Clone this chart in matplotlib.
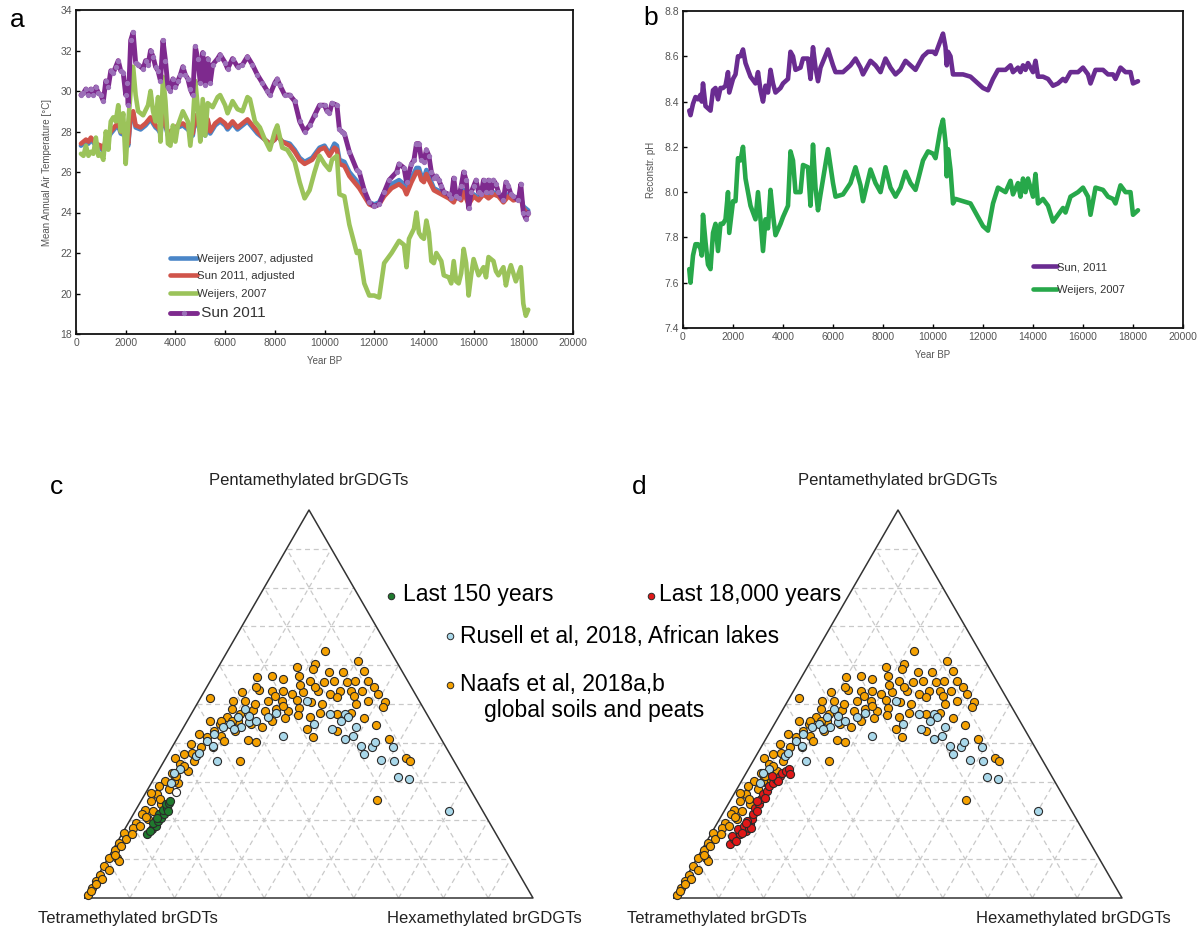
import numpy as np
import matplotlib
matplotlib.use("Agg")
import matplotlib.pyplot as plt

plt.rcParams['font.family'] = ['Liberation Sans', 'DejaVu Sans']

# ---------------- Panel a data: Mean annual air temperature ----------------
sun_years = [200, 300, 400, 500, 600, 700, 800, 900, 1000, 1100, 1200, 1300, 1400, 1500, 1600, 1700, 1800, 1900,
             2000, 2050, 2100, 2200, 2300, 2400, 2500, 2700, 2800, 2900, 3000, 3100, 3200, 3300, 3400, 3500, 3600,
             3700, 3800, 3900, 4000, 4100, 4200, 4300, 4400, 4500, 4600, 4700, 4800, 4900, 5000, 5100, 5200, 5300,
             5400, 5500, 5700, 5800, 6000, 6100, 6300, 6500, 6700, 6900, 7100, 7300, 7500, 7700, 7800, 8000, 8100,
             8200, 8400, 8600, 8800, 9000, 9200, 9400, 9600, 9800, 10000, 10100, 10200, 10300, 10500, 10600, 10700,
             10800, 11000, 11300, 11400, 11600, 11800, 12000, 12200, 12400, 12600, 12900, 13000, 13200, 13300, 13500,
             13600, 13700, 13800, 13900, 14000, 14100, 14200, 14300, 14400, 14500, 14600, 14700, 14800, 15000, 15100,
             15200, 15300, 15400, 15500, 15600, 15700, 15800, 15900, 16000, 16100, 16200, 16300, 16400, 16500, 16600,
             16700, 16800, 16900, 17000, 17200, 17300, 17400, 17500, 17600, 17800, 17900, 18000, 18100, 18200]
sun_temp = [29.8, 29.9, 30.1, 29.8, 30.1, 29.8, 30.2, 29.9, 29.8, 29.5, 30.5, 30.2, 31.0, 30.9, 31.2, 31.5, 31.0, 30.9,
            29.8, 30.4, 29.3, 32.5, 32.9, 31.4, 31.3, 31.1, 31.5, 31.3, 32.0, 31.7, 31.2, 31.0, 30.5, 32.5, 31.5,
            30.2, 30.0, 30.6, 30.2, 30.5, 30.8, 31.2, 30.8, 30.6, 30.1, 29.8, 32.2, 31.6, 30.4, 31.9, 30.3, 31.6,
            30.4, 31.3, 31.6, 31.8, 31.4, 31.1, 31.6, 31.2, 31.3, 31.7, 31.3, 30.8, 30.4, 30.0, 29.8, 30.4, 30.6,
            30.3, 29.8, 29.8, 29.5, 28.5, 28.0, 28.3, 28.8, 29.3, 29.3, 29.0, 28.9, 29.4, 29.3, 28.1, 28.0,
            27.9, 27.0, 26.1, 26.0, 25.1, 24.5, 24.3, 24.4, 25.0, 25.6, 26.0, 26.4, 26.2, 25.5, 26.4,
            26.6, 27.4, 27.4, 26.6, 26.5, 27.1, 26.8, 26.0, 25.7, 25.8, 25.6, 25.3, 25.0, 24.9, 24.7,
            25.7, 24.8, 24.7, 25.3, 26.0, 25.6, 24.2, 25.0, 25.3, 25.6, 25.0, 24.9, 25.6, 25.0, 25.6,
            25.0, 25.6, 25.4, 25.0, 24.6, 25.5, 25.3, 24.9, 24.8, 24.6, 25.4, 24.0, 23.7, 24.0]

adj_years = [200, 400, 500, 600, 800, 1000, 1100, 1200, 1400, 1600, 1700, 1800, 2000, 2100, 2200, 2300, 2400, 2600,
             2800, 3000, 3200, 3300, 3400, 3500, 3600, 3700, 3900, 4100, 4300, 4500, 4700, 4800, 5000, 5100, 5200,
             5300, 5400, 5600, 5800, 6000, 6100, 6300, 6500, 6700, 6900, 7100, 7300, 7600, 7800, 8000, 8100, 8300,
             8600, 8800, 9000, 9200, 9500, 9800, 10000, 10200, 10400, 10500, 10600, 10800, 11000, 11400, 11800,
             12000, 12200, 12400, 12700, 13000, 13200, 13300, 13500, 13700, 13800, 13900, 14000, 14100, 14200,
             14400, 14700, 15000, 15200, 15300, 15500, 15600, 15800, 16000, 16200, 16400, 16600, 16800, 17000,
             17200, 17400, 17600, 17900, 18000, 18200]
sun_adj_temp = [27.4, 27.6, 27.5, 27.7, 27.4, 27.3, 27.1, 27.6, 28.0, 28.3, 28.4, 28.0, 27.9, 27.4, 28.8, 29.0, 28.3,
                28.2, 28.4, 28.7, 28.3, 28.2, 28.0, 28.9, 28.4, 27.9, 28.1, 28.3, 28.4, 28.2, 27.9, 28.8, 28.1,
                28.6, 27.9, 28.6, 28.0, 28.4, 28.6, 28.4, 28.2, 28.5, 28.2, 28.4, 28.6, 28.3, 28.0, 27.6, 27.4,
                27.6, 27.8, 27.5, 27.3, 27.0, 26.6, 26.4, 26.6, 27.1, 27.2, 26.8, 27.2, 27.1, 26.4, 26.3, 25.8,
                25.2, 24.4, 24.3, 24.4, 24.8, 25.2, 25.4, 25.2, 24.9, 25.5, 26.0, 26.0, 25.6, 25.5, 25.9, 25.6,
                25.1, 24.9, 24.7, 24.5, 24.8, 24.6, 25.0, 24.4, 24.8, 24.6, 24.9, 24.7, 24.9, 24.8, 24.5, 24.8,
                24.6, 24.7, 24.2, 23.9]
weijers_adj_temp = [27.3, 27.5, 27.4, 27.6, 27.3, 27.2, 27.0, 27.5, 27.9, 28.2, 28.3, 27.9, 27.8, 27.3, 28.7, 28.9,
                    28.2, 28.1, 28.3, 28.6, 28.2, 28.1, 27.9, 28.8, 28.3, 27.8, 28.0, 28.2, 28.3, 28.1, 27.8, 28.7,
                    28.0, 28.5, 27.8, 28.5, 27.9, 28.3, 28.5, 28.3, 28.1, 28.4, 28.1, 28.3, 28.5, 28.2, 27.9, 27.6,
                    27.4, 27.6, 27.8, 27.5, 27.4, 27.1, 26.7, 26.5, 26.7, 27.2, 27.3, 26.9, 27.4, 27.3, 26.6, 26.5,
                    26.0, 25.4, 24.5, 24.4, 24.5, 25.0, 25.4, 25.6, 25.4, 25.1, 25.7, 26.2, 26.2, 25.8, 25.7, 26.1,
                    25.8, 25.2, 25.0, 24.8, 24.6, 24.9, 24.7, 25.1, 24.5, 24.9, 24.7, 25.0, 24.8, 25.0, 24.9, 24.6,
                    24.9, 24.7, 24.8, 24.3, 24.1]

weijers_years = [200, 300, 400, 500, 600, 700, 800, 900, 1000, 1100, 1200, 1300, 1400, 1500, 1600, 1700, 1800, 1900,
                 2000, 2100, 2200, 2300, 2400, 2500, 2700, 2900, 3000, 3100, 3200, 3300, 3400, 3500, 3600, 3700,
                 3800, 3900, 4000, 4100, 4300, 4500, 4600, 4700, 4800, 4900, 5000, 5100, 5200, 5300, 5500, 5700,
                 5800, 6000, 6100, 6300, 6500, 6700, 6900, 7000, 7200, 7400, 7600, 7800, 8000, 8100, 8300, 8500,
                 8800, 9000, 9200, 9400, 9600, 9800, 10000, 10200, 10300, 10500, 10600, 10800, 11000, 11300, 11400,
                 11600, 11800, 12000, 12200, 12400, 12700, 13000, 13200, 13300, 13400, 13600, 13700, 13800, 13900,
                 14000, 14100, 14200, 14300, 14400, 14500, 14700, 14800, 15000, 15100, 15200, 15300, 15400, 15500,
                 15600, 15700, 15800, 15900, 16000, 16200, 16400, 16500, 16600, 16800, 16900, 17000, 17200, 17300,
                 17400, 17500, 17700, 17900, 18000, 18100, 18200]
weijers_temp = [26.9, 26.8, 27.3, 26.8, 27.0, 26.9, 27.7, 26.8, 26.9, 26.6, 28.0, 27.1, 28.5, 28.7, 28.5, 29.3, 28.0,
                28.9, 26.4, 28.4, 30.0, 31.2, 29.8, 29.0, 28.8, 29.3, 30.0, 29.0, 28.5, 29.7, 27.5, 30.7, 29.5, 27.4,
                27.3, 28.3, 27.5, 28.3, 29.0, 28.5, 27.3, 28.5, 30.5, 29.2, 27.5, 29.6, 27.8, 29.4, 29.2, 29.7,
                29.8, 29.3, 28.9, 29.5, 29.1, 29.0, 29.7, 29.6, 28.5, 28.2, 27.6, 27.1, 28.0, 28.3, 27.2, 27.1,
                26.5, 25.5, 24.7, 25.1, 26.0, 26.8, 26.4, 26.1, 26.6, 26.8, 24.9, 24.8, 23.4, 22.0, 22.1,
                20.5, 19.9, 19.9, 19.8, 21.5, 22.0, 22.6, 22.4, 21.3, 22.7, 23.2, 24.0, 23.0, 22.8,
                22.7, 23.6, 23.0, 21.6, 21.5, 22.0, 21.6, 20.9, 20.8, 20.5, 21.6, 20.6, 20.5, 21.0,
                22.2, 21.5, 19.9, 20.9, 21.7, 20.9, 21.3, 20.8, 21.8, 21.6, 21.1, 20.9, 21.3, 20.4,
                21.0, 21.4, 20.6, 21.3, 19.5, 18.9, 19.2]

# ---------------- Panel b data: reconstructed pH ----------------
ph_years = [250, 300, 400, 500, 600, 700, 750, 800, 900, 1000, 1100, 1200, 1300, 1400, 1500, 1600, 1700, 1800, 1850,
            2000, 2100, 2200, 2300, 2400, 2500, 2700, 2900, 3000, 3100, 3200, 3300, 3400, 3500, 3600, 3700, 3900,
            4000, 4200, 4300, 4400, 4500, 4700, 4800, 5000, 5100, 5200, 5300, 5400, 5500, 5800, 6000, 6100, 6400,
            6700, 6900, 7100, 7200, 7500, 7700, 7900, 8100, 8300, 8500, 8700, 8900, 9100, 9300, 9600, 9800, 10000,
            10100, 10300, 10400, 10500, 10550, 10600, 10700, 10800, 10900, 11200, 11500, 12000, 12200, 12400, 12600,
            12900, 13100, 13200, 13400, 13500, 13600, 13700, 13800, 14000, 14100, 14200, 14400, 14600, 14800, 15000,
            15200, 15300, 15500, 15800, 16000, 16200, 16300, 16500, 16800, 17000, 17200, 17300, 17500, 17700, 17900,
            18000, 18200]
sun_ph = [8.36, 8.34, 8.39, 8.42, 8.41, 8.43, 8.40, 8.48, 8.38, 8.37, 8.36, 8.45, 8.46, 8.41, 8.46, 8.46, 8.47, 8.53,
          8.44, 8.50, 8.52, 8.60, 8.60, 8.63, 8.57, 8.51, 8.48, 8.53, 8.45, 8.40, 8.47, 8.44, 8.54, 8.48, 8.44, 8.46,
          8.48, 8.50, 8.62, 8.60, 8.54, 8.55, 8.59, 8.59, 8.50, 8.64, 8.55, 8.49, 8.55, 8.63, 8.56, 8.53, 8.53,
          8.56, 8.59, 8.55, 8.52, 8.58, 8.56, 8.53, 8.59, 8.55, 8.52, 8.54, 8.58, 8.56, 8.54, 8.60, 8.62, 8.62,
          8.61, 8.67, 8.70, 8.64, 8.56, 8.62, 8.60, 8.52, 8.52, 8.52, 8.51, 8.46, 8.45, 8.50, 8.54,
          8.54, 8.56, 8.53, 8.55, 8.53, 8.56, 8.54, 8.57, 8.53, 8.58, 8.51, 8.51, 8.50, 8.47, 8.48,
          8.50, 8.49, 8.53, 8.53, 8.55, 8.52, 8.48, 8.54, 8.54, 8.52, 8.52, 8.50, 8.55, 8.53, 8.53,
          8.48, 8.49]
weijers_ph = [7.66, 7.60, 7.72, 7.77, 7.77, 7.75, 7.72, 7.90, 7.78, 7.68, 7.66, 7.82, 7.86, 7.74, 7.86, 7.86, 7.88,
              8.00, 7.82, 7.96, 7.96, 8.15, 8.14, 8.20, 8.06, 7.94, 7.88, 8.00, 7.88, 7.74, 7.88, 7.84, 8.01, 7.90,
              7.81, 7.86, 7.89, 7.94, 8.18, 8.14, 8.00, 8.00, 8.12, 8.11, 7.94, 8.21, 8.02, 7.92, 7.99, 8.19, 8.04,
              7.98, 7.99, 8.04, 8.11, 8.03, 7.96, 8.10, 8.04, 8.00, 8.11, 8.02, 7.98, 8.02, 8.09, 8.04, 8.01, 8.14,
              8.18, 8.17, 8.15, 8.28, 8.32, 8.22, 8.07, 8.19, 8.10, 7.95, 7.97, 7.96, 7.95, 7.85, 7.83, 7.95, 8.02,
              8.00, 8.05, 7.99, 8.04, 7.98, 8.06, 8.00, 8.06, 7.98, 8.08, 7.95, 7.97, 7.94, 7.87, 7.90,
              7.93, 7.91, 7.98, 8.00, 8.02, 7.98, 7.90, 8.02, 8.01, 7.98, 7.97, 7.95, 8.03, 8.00, 8.00,
              7.90, 7.92]

# ---------------- Panels c/d data: ternary fractions (penta, hexa); tetra = 1 - penta - hexa ----------------
naafs_pts = [(.636, .218), (.612, .303), (.603, .213), (.591, .214), (.582, .254), (.582, .284), (.569, .099),
             (.573, .130), (.565, .160), (.571, .193), (.560, .222), (.556, .255), (.560, .275), (.556, .307),
             (.558, .323), (.558, .353), (.516, .021), (.530, .086), (.536, .120), (.534, .151), (.534, .176),
             (.526, .198), (.530, .221), (.534, .253), (.526, .283), (.534, .303), (.534, .326), (.534, .352),
             (.543, .373), (.526, .390), (.509, .076), (.507, .104), (.509, .154), (.509, .185), (.510, .218),
             (.504, .253), (.500, .279), (.517, .305), (.500, .356), (.509, .377), (.504, .418), (.491, .420),
             (.487, .084), (.474, .108), (.484, .133), (.481, .161), (.487, .183), (.481, .212), (.490, .233),
             (.466, .270), (.478, .286), (.474, .326), (.464, .391), (.447, .426), (.457, .051), (.448, .078),
             (.466, .084), (.457, .113), (.448, .147), (.440, .176), (.457, .189), (.464, .215), (.435, .277),
             (.431, .348), (.407, .161), (.401, .181), (.416, .300), (.409, .474), (.362, .536), (.353, .548),
             (.252, .525), (.353, .170), (.422, .044), (.414, .065), (.431, .073), (.397, .039), (.388, .065),
             (.388, .091), (.371, .035), (.353, .066), (.362, .019), (.345, .040), (.328, .065), (.323, .033),
             (.302, .027), (.297, .060), (.280, .047), (.289, .021), (.267, .028), (.250, .023), (.241, .050),
             (.228, .021), (.224, .040), (.216, .019), (.203, .039), (.194, .017), (.181, .016), (.168, .002),
             (.151, .017), (.142, .004), (.125, .005), (.103, .020), (.103, .002), (.082, .002), (.073, .018),
             (.060, .003), (.043, .003), (.026, .002), (.009, .002), (.095, .028), (.164, .023), (.302, .048),
             (.457, .076), (.500, .130), (.520, .165), (.495, .195), (.545, .240), (.520, .340), (.472, .240),
             (.478, .355), (.455, .100), (.430, .120), (.418, .095), (.405, .108), (.375, .052), (.340, .050),
             (.315, .045), (.270, .012), (.255, .040), (.210, .032), (.185, .030), (.135, .012), (.112, .010),
             (.050, .012), (.035, .008), (.017, .005), (.595, .175), (.585, .330), (.545, .110), (.548, .205)]
russell_pts = [(.487, .114), (.466, .108), (.448, .100), (.453, .139), (.455, .154), (.440, .129), (.478, .187),
               (.509, .240), (.474, .309), (.448, .288), (.474, .343), (.466, .354), (.457, .343), (.435, .333),
               (.440, .386), (.418, .389), (.409, .375), (.418, .234), (.440, .087), (.422, .078), (.405, .070),
               (.392, .089), (.366, .064), (.353, .118), (.332, .046), (.323, .038), (.297, .043), (.392, .419),
               (.390, .445), (.371, .438), (.403, .446), (.390, .493), (.355, .484), (.353, .514), (.312, .543),
               (.306, .571), (.224, .701), (.466, .176), (.435, .115), (.375, .068), (.470, .130)]
last150_pts = [(.164, .056), (.177, .060), (.185, .065), (.194, .055), (.198, .064), (.207, .067), (.216, .057),
               (.217, .068), (.228, .060), (.233, .066), (.241, .060), (.246, .064), (.250, .064), (.207, .058),
               (.172, .058), (.224, .073)]
open_pts = [(.272, .068)]
last18k_pts = [(.138, .057), (.151, .059), (.159, .051), (.164, .065), (.177, .055), (.172, .074), (.185, .064),
               (.190, .074), (.203, .072), (.198, .065), (.216, .069), (.233, .065), (.241, .070), (.254, .067),
               (.267, .065), (.276, .069), (.289, .067), (.297, .072), (.306, .075), (.315, .080), (.323, .080),
               (.328, .085), (.332, .090), (.319, .099), (.302, .081), (.259, .074), (.224, .074), (.181, .078),
               (.168, .067), (.147, .065), (.250, .061), (.315, .062), (.181, .082), (.194, .063)]

# ---------------- Figure ----------------
W, H = 1197, 932
fig = plt.figure(figsize=(W / 100, H / 100), dpi=100)


def fx(x):
    return x / W


def fy(y):
    return 1 - y / H


def box(x0, y0, x1, y1):
    return [fx(x0), fy(y1), (x1 - x0) / W, (y1 - y0) / H]


gray = '#555555'


def style_line_axes(ax):
    for s in ax.spines.values():
        s.set_linewidth(1.3)
        s.set_color('#111111')
    ax.tick_params(direction='in', length=3, width=1, labelsize=7.5, labelcolor=gray, pad=3)


# Panel a
axa = fig.add_axes(box(76, 10, 573, 334))
axa.plot(adj_years, weijers_adj_temp, color='#4A86C8', lw=3.3, solid_capstyle='round',
         label='Weijers 2007, adjusted')
axa.plot(adj_years, sun_adj_temp, color='#D0544A', lw=3.3, solid_capstyle='round',
         label='Sun 2011, adjusted')
axa.plot(weijers_years, weijers_temp, color='#9BC35A', lw=3.3, solid_capstyle='round',
         label='Weijers, 2007')
axa.plot(sun_years, sun_temp, color='#7E2A8E', lw=3.5, marker='o', markersize=2.8,
         markerfacecolor='#9C6FB8', markeredgecolor='#9C6FB8', solid_capstyle='round', label='Sun 2011')
axa.set_xlim(0, 20000)
axa.set_ylim(18, 34)
axa.set_xticks(np.arange(0, 20001, 2000))
axa.set_yticks(np.arange(18, 35, 2))
style_line_axes(axa)
axa.set_xlabel('Year BP', fontsize=7, color=gray, labelpad=6)
axa.set_ylabel('Mean Annual Air Temperature [°C]', fontsize=7, color=gray, labelpad=6)
lega = axa.legend(loc='upper left', bbox_to_anchor=(fx(170), fy(254)), bbox_transform=fig.transFigure,
                  frameon=False, handlelength=2.4, handletextpad=0.0, labelspacing=0.65, fontsize=8.2,
                  borderpad=0, borderaxespad=0)
for t in lega.get_texts():
    t.set_color('#333333')
lega.get_texts()[3].set_fontsize(11)
lega.get_texts()[3].set_text(' Sun 2011')
fig.text(fx(10), fy(20), 'a', fontsize=19, va='center', ha='left')

# Panel b
axb = fig.add_axes(box(683, 11, 1183, 328))
axb.plot(ph_years, sun_ph, color='#6A2C91', lw=3.3, solid_capstyle='round', label='Sun, 2011')
axb.plot(ph_years, weijers_ph, color='#27A84A', lw=3.3, solid_capstyle='round', label='Weijers, 2007')
axb.set_xlim(0, 20000)
axb.set_ylim(7.4, 8.8)
axb.set_xticks(np.arange(0, 20001, 2000))
axb.set_yticks(np.round(np.arange(7.4, 8.81, 0.2), 1))
axb.set_yticklabels(['%.1f' % v for v in np.arange(7.4, 8.81, 0.2)])
style_line_axes(axb)
axb.set_xlabel('Year BP', fontsize=7, color=gray, labelpad=6)
axb.set_ylabel('Reconstr. pH', fontsize=7, color=gray, labelpad=6)
legb = axb.legend(loc='upper left', bbox_to_anchor=(fx(1033), fy(262)), bbox_transform=fig.transFigure,
                  frameon=False, handlelength=2.2, handletextpad=0.0, labelspacing=1.2, fontsize=8,
                  borderpad=0, borderaxespad=0)
for t in legb.get_texts():
    t.set_color('#333333')
fig.text(fx(643), fy(18), 'b', fontsize=19, va='center', ha='left')

# Ternary panels
S3 = np.sqrt(3) / 2


def to_xy(pts):
    a = np.array(pts, dtype=float)
    penta, hexa = a[:, 0], a[:, 1]
    return hexa + 0.5 * penta, S3 * penta


def ternary_axes(x0):
    ax = fig.add_axes(box(x0, 510, x0 + 448, 898))
    ax.set_xlim(0, 1)
    ax.set_ylim(0, S3)
    ax.axis('off')
    gc = '#c9c9c9'
    for k in np.arange(1, 10) / 10:
        ax.plot([k / 2, 1 - k / 2], [S3 * k, S3 * k], color=gc, lw=0.9, ls=(0, (4, 3)), zorder=1)
        ax.plot([k, k + (1 - k) / 2], [0, S3 * (1 - k)], color=gc, lw=0.9, ls=(0, (4, 3)), zorder=1)
        ax.plot([1 - k, (1 - k) / 2], [0, S3 * (1 - k)], color=gc, lw=0.9, ls=(0, (4, 3)), zorder=1)
    ax.plot([0, 1, 0.5, 0], [0, 0, S3, 0], color='#333333', lw=1.1, zorder=2, clip_on=False)
    return ax


def pts_scatter(ax, pts, color, z):
    x, y = to_xy(pts)
    ax.scatter(x, y, s=34, c=color, edgecolors='#2a2a2a', linewidths=0.8, zorder=z, clip_on=False)


orange = '#F5A100'
lblue = '#A9D8EA'
dgreen = '#1F7A2E'
red = '#E01818'

axc = ternary_axes(85)
pts_scatter(axc, naafs_pts, orange, 3)
pts_scatter(axc, russell_pts, lblue, 4)
pts_scatter(axc, open_pts, 'white', 4)
pts_scatter(axc, last150_pts, dgreen, 5)

axd = ternary_axes(674)
pts_scatter(axd, naafs_pts, orange, 3)
pts_scatter(axd, russell_pts, lblue, 4)
pts_scatter(axd, last18k_pts, red, 5)

for x0 in (85, 674):
    fig.text(fx(x0 + 224), fy(480), 'Pentamethylated brGDGTs', fontsize=12, ha='center', va='center',
             color='#222222')
    fig.text(fx(x0 - 47), fy(918), 'Tetramethylated brGDTs', fontsize=12, ha='left', va='center',
             color='#222222')
    fig.text(fx(x0 + 302), fy(918), 'Hexamethylated brGDGTs', fontsize=12, ha='left', va='center',
             color='#222222')
fig.text(fx(50), fy(487), 'c', fontsize=19, va='center', ha='left')
fig.text(fx(632), fy(487), 'd', fontsize=19, va='center', ha='left')

# Central legend for ternary panels
lax = fig.add_axes([0, 0, 1, 1], facecolor='none')
lax.set_xlim(0, W)
lax.set_ylim(H, 0)
lax.axis('off')
leg_items = [((391, 596), dgreen), ((651, 596), red), ((450, 636), lblue), ((450, 685), orange)]
for (lx, ly), col in leg_items:
    lax.scatter([lx], [ly], s=22, c=col, edgecolors='#2a2a2a', linewidths=0.7, zorder=5)
fs = 16.5
fig.text(fx(403), fy(595), 'Last 150 years', fontsize=fs, ha='left', va='center')
fig.text(fx(659), fy(595), 'Last 18,000 years', fontsize=fs, ha='left', va='center')
fig.text(fx(460), fy(636), 'Rusell et al, 2018, African lakes', fontsize=fs, ha='left', va='center')
fig.text(fx(460), fy(684), 'Naafs et al, 2018a,b', fontsize=fs, ha='left', va='center')
fig.text(fx(484), fy(710), 'global soils and peats', fontsize=fs, ha='left', va='center')

fig.savefig('out.png', dpi=100)
